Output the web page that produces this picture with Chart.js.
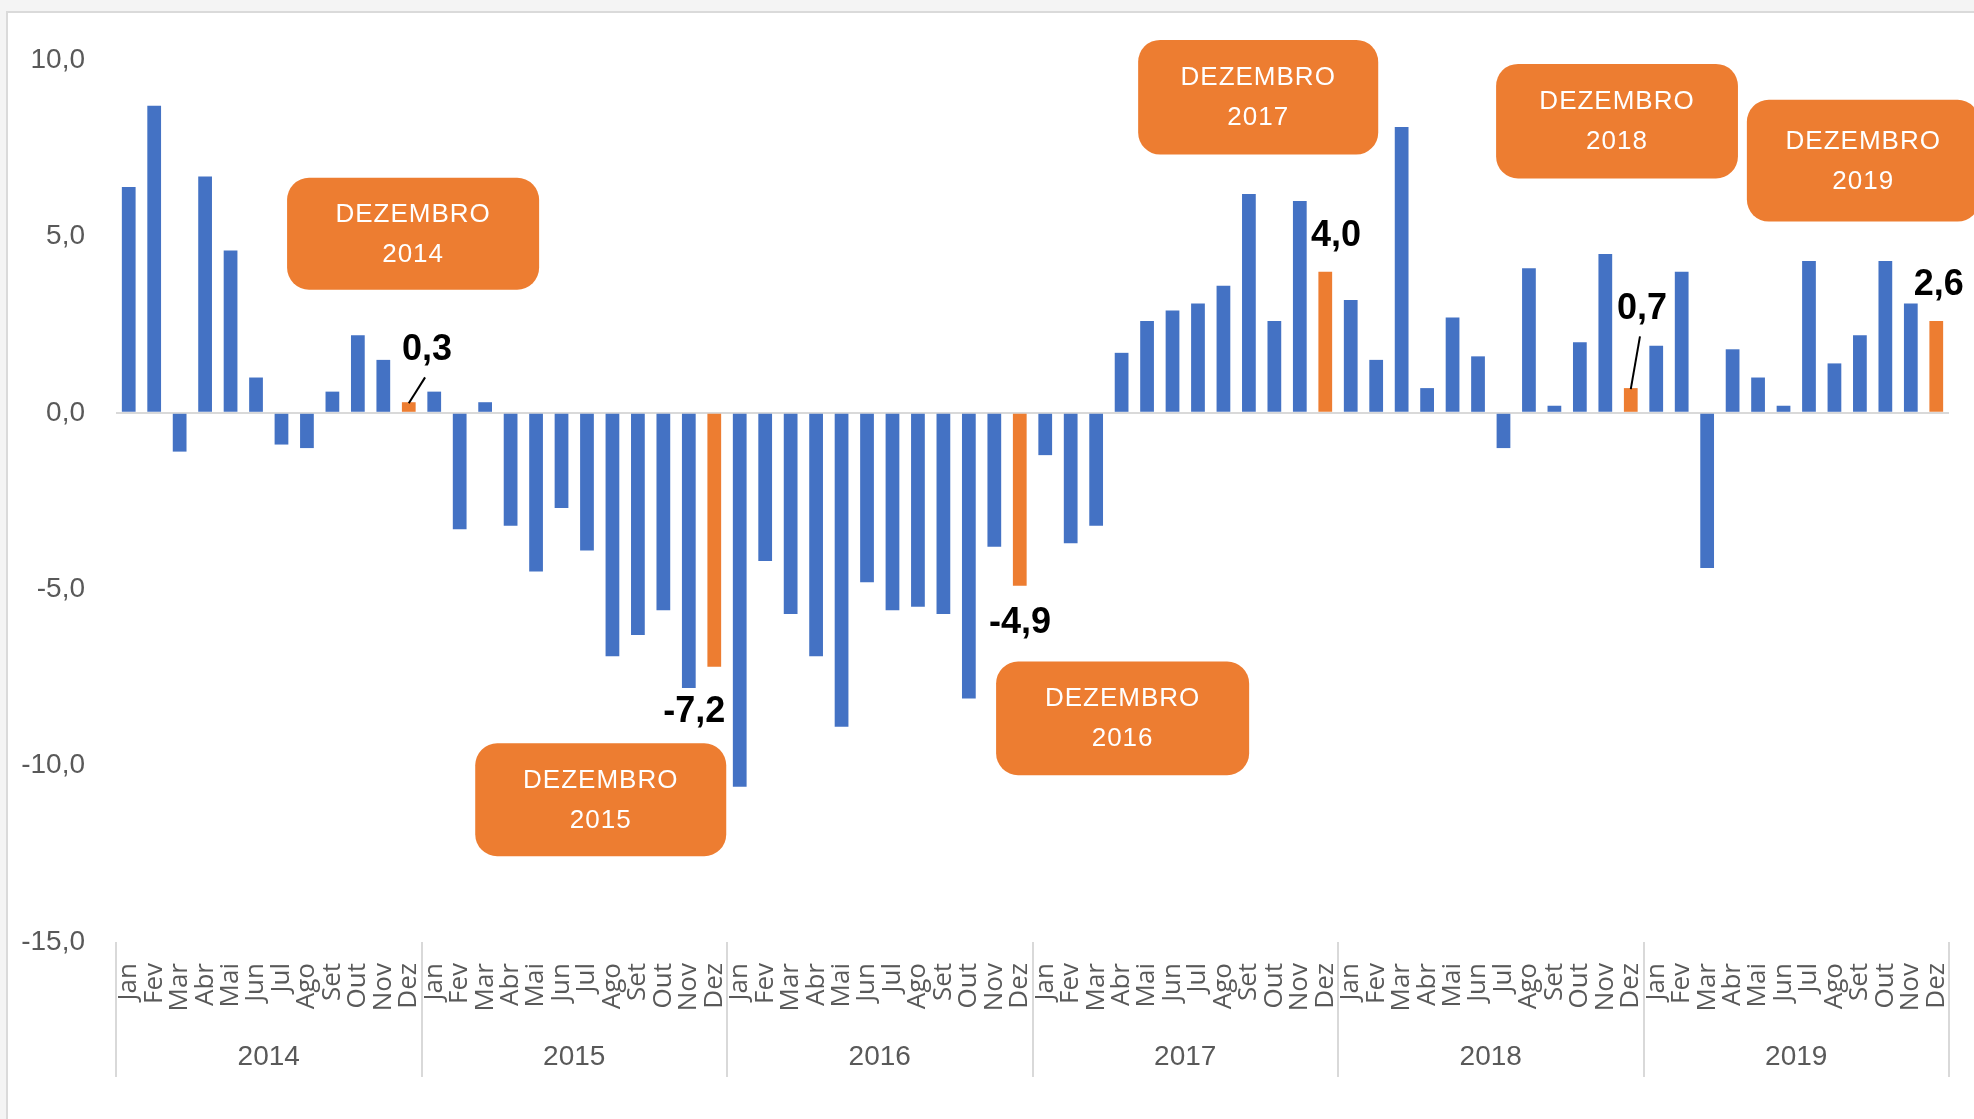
<!DOCTYPE html>
<html lang="pt-BR">
<head>
<meta charset="utf-8">
<title>Variação mensal 2014-2019</title>
<script src="https://cdn.jsdelivr.net/npm/chart.js@4.4.1/dist/chart.umd.min.js"></script>
<style>
  html, body { margin: 0; padding: 0; background: #f4f4f4; overflow: hidden; }
  #moldura { position: absolute; left: 6px; top: 11px; width: 2100px; height: 1200px;
             background: #fff; border-left: 2px solid #dadada; border-top: 2px solid #dadada; }
  #area { position: absolute; left: 0; top: 0; width: 1974px; height: 1119px; }
</style>
</head>
<body>
<div id="moldura"></div>
<div id="area"><canvas id="grafico" width="1974" height="1119"></canvas></div>
<script>
// Dados
const meses = ['Jan', 'Fev', 'Mar', 'Abr', 'Mai', 'Jun', 'Jul', 'Ago', 'Set', 'Out', 'Nov', 'Dez'];
const anos = ['2014', '2015', '2016', '2017', '2018', '2019'];

const v2014 = [6.4, 8.7, -1.1, 6.7, 4.6, 1.0, -0.9, -1.0, 0.6, 2.2, 1.5, 0.3];
const v2015 = [0.6, -3.3, 0.3, -3.2, -4.5, -2.7, -3.9, -6.9, -6.3, -5.6, -7.8, -7.2];
const v2016 = [-10.6, -4.2, -5.7, -6.9, -8.9, -4.8, -5.6, -5.5, -5.7, -8.1, -3.8, -4.9];
const v2017 = [-1.2, -3.7, -3.2, 1.7, 2.6, 2.9, 3.1, 3.6, 6.2, 2.6, 6.0, 4.0];
const v2018 = [3.2, 1.5, 8.1, 0.7, 2.7, 1.6, -1.0, 4.1, 0.2, 2.0, 4.5, 0.7];
const v2019 = [1.9, 4.0, -4.4, 1.8, 1.0, 0.2, 4.3, 1.4, 2.2, 4.3, 3.1, 2.6];

const yTickLabels = ['-15,0', '-10,0', '-5,0', '0,0', '5,0', '10,0'];

// Posições das caixas e rótulos (em unidades dos eixos: índice do mês / valor)
const caixas = [
    { x0: 6.22, x1: 16.12, y0: 6.66, y1: 3.49 },
    { x0: 13.61, x1: 23.47, y0: -9.37, y1: -12.57 },
    { x0: 34.07, x1: 44.01, y0: -7.05, y1: -10.27 },
    { x0: 39.65, x1: 49.08, y0: 10.57, y1: 7.32 },
    { x0: 53.71, x1: 63.21, y0: 9.89, y1: 6.64 },
    { x0: 63.56, x1: 72.7, y0: 8.87, y1: 5.42 }
];
const rotulos = [
    { x: 11.72, y: 1.77, guia: true },
    { x: 22.21, y: -8.47 },
    { x: 35.01, y: -5.95 },
    { x: 47.42, y: 5.0 },
    { x: 59.44, y: 2.93, guia: true },
    { x: 71.1, y: 3.63 }
];

const AZUL = '#4472C4';
const LARANJA = '#ED7D31';
const CINZA = '#595959';
const FONTE = '"Liberation Sans", Arial, sans-serif';

const valoresPorAno = [v2014, v2015, v2016, v2017, v2018, v2019];
const valores = [].concat(...valoresPorAno);
const rotulosMes = [];
anos.forEach(() => meses.forEach(m => rotulosMes.push(m)));
const cores = valores.map((v, i) => (i % 12 === 11 ? LARANJA : AZUL));

function fmt(v) {
    return v.toFixed(1).replace('.', ',');
}

function retanguloArredondado(ctx, x, y, w, h, r) {
    ctx.beginPath();
    ctx.moveTo(x + r, y);
    ctx.lineTo(x + w - r, y);
    ctx.arcTo(x + w, y, x + w, y + r, r);
    ctx.lineTo(x + w, y + h - r);
    ctx.arcTo(x + w, y + h, x + w - r, y + h, r);
    ctx.lineTo(x + r, y + h);
    ctx.arcTo(x, y + h, x, y + h - r, r);
    ctx.lineTo(x, y + r);
    ctx.arcTo(x, y, x + r, y, r);
    ctx.closePath();
}

// Separadores de ano, caixas "DEZEMBRO" e rótulos de dezembro
const destaques = {
    id: 'destaques',
    afterDatasetsDraw(chart) {
        const ctx = chart.ctx;
        const x = chart.scales.x;
        const y = chart.scales.y;
        const area = chart.chartArea;
        const barras = chart.getDatasetMeta(0).data;

        ctx.save();
        // linhas verticais entre anos
        ctx.strokeStyle = '#d9d9d9';
        ctx.lineWidth = 2;
        for (let k = 0; k <= anos.length; k++) {
            const px = Math.round(x.getPixelForValue(k * 12 - 0.5));
            ctx.beginPath();
            ctx.moveTo(px, area.bottom);
            ctx.lineTo(px, area.bottom + 135);
            ctx.stroke();
        }

        // caixas
        caixas.forEach((c, k) => {
            const l = x.getPixelForValue(c.x0);
            const r = x.getPixelForValue(c.x1);
            const t = y.getPixelForValue(c.y0);
            const b = y.getPixelForValue(c.y1);
            ctx.fillStyle = LARANJA;
            retanguloArredondado(ctx, l, t, r - l, b - t, 22);
            ctx.fill();
            ctx.fillStyle = '#ffffff';
            ctx.font = '26px ' + FONTE;
            ctx.letterSpacing = '1px';
            ctx.textAlign = 'center';
            ctx.textBaseline = 'middle';
            const cx = (l + r) / 2;
            const cy = (t + b) / 2;
            ctx.fillText('DEZEMBRO', cx, cy - 19);
            ctx.fillText(anos[k], cx, cy + 21);
            ctx.letterSpacing = '0px';
        });

        // rótulos de dezembro
        rotulos.forEach((p, k) => {
            const idx = k * 12 + 11;
            const lx = x.getPixelForValue(p.x);
            const ly = y.getPixelForValue(p.y);
            ctx.fillStyle = '#000000';
            ctx.font = 'bold 36px ' + FONTE;
            ctx.textAlign = 'center';
            ctx.textBaseline = 'middle';
            ctx.fillText(fmt(valoresPorAno[k][11]), lx, ly);
            if (p.guia) {
                const bar = barras[idx];
                ctx.strokeStyle = '#000000';
                ctx.lineWidth = 2;
                ctx.beginPath();
                ctx.moveTo(lx - 2, ly + 27);
                ctx.lineTo(bar.x, bar.y + 1);
                ctx.stroke();
            }
        });
        ctx.restore();
    }
};

const canvas = document.getElementById('grafico');
const ctx = canvas.getContext('2d');

window.graficoVariacao = new Chart(ctx, {
    type: 'bar',
    data: {
        labels: rotulosMes,
        datasets: [{
            label: 'Variação',
            data: valores,
            backgroundColor: cores,
            borderWidth: 0,
            categoryPercentage: 1.0,
            barPercentage: 0.54,
            xAxisID: 'x',
            yAxisID: 'y'
        }]
    },
    options: {
        responsive: false,
        animation: false,
        layout: {
            padding: { top: 60, right: 25, bottom: 0, left: 0 }
        },
        plugins: {
            legend: { display: false },
            tooltip: { enabled: false }
        },
        scales: {
            x: {
                type: 'category',
                position: 'bottom',
                offset: true,
                grid: { display: false, drawTicks: false },
                border: { display: false },
                ticks: {
                    autoSkip: false,
                    maxRotation: 90,
                    minRotation: 90,
                    padding: 21,
                    color: CINZA,
                    font: { family: '"Open Sans", sans-serif', size: 26 }
                },
                afterFit: function(scale) {
                    scale.height = 90;
                    scale.paddingLeft = 0;
                    scale.paddingRight = 0;
                }
            },
            ano: {
                type: 'category',
                position: 'bottom',
                labels: anos,
                offset: true,
                grid: { display: false, drawTicks: false },
                border: { display: false },
                ticks: {
                    autoSkip: false,
                    maxRotation: 0,
                    padding: 8,
                    color: CINZA,
                    font: { family: FONTE, size: 28 }
                },
                afterFit: function(scale) {
                    scale.height = 87;
                    scale.paddingLeft = 0;
                    scale.paddingRight = 0;
                }
            },
            y: {
                min: -15,
                max: 10,
                ticks: {
                    stepSize: 5,
                    padding: 31,
                    color: CINZA,
                    font: { family: FONTE, size: 28 },
                    callback: function(value, index) { return yTickLabels[index]; }
                },
                grid: {
                    drawTicks: false,
                    color: function(c) { return c.tick && c.tick.value === 0 ? '#d9d9d9' : 'rgba(0,0,0,0)'; },
                    lineWidth: 2
                },
                border: { display: false },
                afterFit: function(scale) { scale.width = 116; }
            }
        }
    },
    plugins: [destaques]
});
</script>
</body>
</html>
